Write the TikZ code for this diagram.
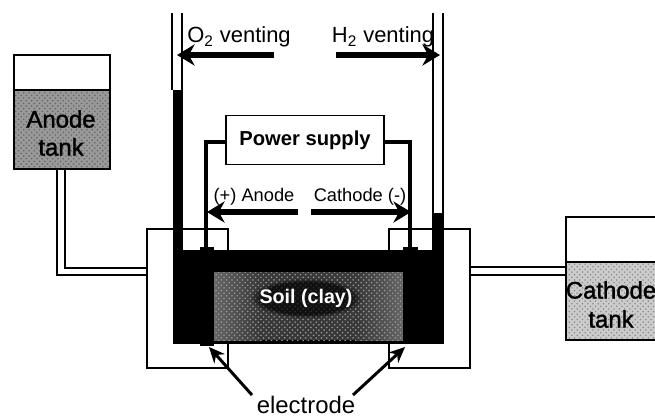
\documentclass[tikz,border=0pt]{standalone}
\usepackage{fontspec}
\setmainfont{Liberation Sans}
\newfontfamily\tanklabel[FakeBold=1.5]{Liberation Sans}
\usetikzlibrary{arrows.meta,patterns,fadings}
\tikzset{
  wall/.style={line width=1.1pt,black},
  wire/.style={line width=2pt,black},
  flow/.style={line width=3pt,black,-{Stealth[length=10pt,width=12pt]}},
  pointer/.style={line width=1.7pt,black,-{Stealth[length=9pt,width=8pt]}},
  bigtext/.style={font=\fontsize{13.6}{15}\selectfont,inner sep=0pt},
  tanktext/.style={font=\tanklabel\fontsize{13.6}{15}\selectfont,inner sep=0pt},
  smalltext/.style={font=\fontsize{10.4}{12}\selectfont,inner sep=0pt}
}
\begin{document}
\begin{tikzpicture}[x=0.02cm,y=-0.02cm]
\useasboundingbox (0,0) rectangle (655,417);

% tanks
\fill[black!40] (14,90) rectangle (110,169);
\fill[pattern=crosshatch dots,pattern color=black!60] (14,90) rectangle (110,169);
\draw[wall] (14,55) rectangle (110,169);
\draw[wall] (14,90) -- (110,90);
\fill[black!20] (566,262) rectangle (655,340);
\fill[pattern=crosshatch dots,pattern color=black!45] (566,262) rectangle (655,340);
\draw[wall] (655,217) -- (566,217) -- (566,340) -- (655,340);
\draw[wall] (566,262) -- (655,262);

% cell boxes and pipes
\draw[wall] (147,229) rectangle (228,368);
\draw[wall] (389,229) rectangle (470,368);
\draw[wall] (57,169) -- (57,275) -- (147,275);
\draw[wall] (65,169) -- (65,268) -- (147,268);
\draw[wall] (470,267) -- (566,267);
\draw[wall] (470,275) -- (566,275);

% soil
\fill[black] (173,250) rectangle (444,344);
\shade[left color=black!60,right color=black!78] (214,272) rectangle (260,340);
\fill[black!78] (260,272) rectangle (357,340);
\shade[left color=black!78,right color=black!60] (357,272) rectangle (403,340);
\fill[pattern=crosshatch dots,pattern color=black!40] (214,272) rectangle (403,340);
\fill[black] (200,247) rectangle (214,346);
\fill[black] (403,247) rectangle (418,344);
\fill[black,opacity=0.7,path fading=circle with fuzzy edge 20 percent] (250,278) rectangle (362,318);

% vent tubes
\draw[wall] (172,13) -- (172,90);
\draw[wall] (182,13) -- (182,90);
\fill[black] (173,90) rectangle (183,250);
\draw[wall] (433,13) -- (433,250);
\draw[wall] (443,13) -- (443,250);
\fill[black] (434,213) rectangle (444,250);

% labels
\node[tanktext] (anode) at (61,119) {Anode};
\node[tanktext] (anodetank) at (61,147) {tank};
\node[tanktext] (cathode) at (611,290) {Cathode};
\node[tanktext] (cathodetank) at (611,319) {tank};
\node[draw,wall,fill=white,minimum width=3.16cm,minimum height=0.98cm,
  font=\bfseries\fontsize{11.5}{13}\selectfont] (supply) at (305,140) {Power supply};
\node[font=\bfseries\fontsize{11.2}{13}\selectfont,text=white,inner sep=1.5pt] (soil) at (306,298) {Soil (clay)};
\node[bigtext,font=\fontsize{12.5}{14}\selectfont] (oxygen) at (239,37) {O\textsubscript{2} venting};
\node[bigtext,font=\fontsize{12.5}{14}\selectfont] (hydrogen) at (383,37) {H\textsubscript{2} venting};
\node[smalltext] (plus) at (254,197) {(+) Anode};
\node[smalltext] (minus) at (360,197) {Cathode (-)};
\node[bigtext] (electrode) at (306,405) {electrode};

% wires
\coordinate (lefttop) at (206,247);
\coordinate (righttop) at (410,247);
\draw[wire] (supply.west |- 0,142) -- (206,142) -- (lefttop);
\draw[wire] (supply.east |- 0,142) -- (410,142) -- (righttop);

% arrows
\coordinate (ventL) at (177,55);
\coordinate (ventR) at (440,55);
\coordinate (wireL) at (207,212);
\coordinate (wireR) at (411,212);
\coordinate (electrodeL) at (209,347);
\coordinate (electrodeR) at (405,347);
\draw[flow] (274,55) -- (ventL);
\draw[flow] (336,55) -- (ventR);
\draw[flow] (298,212) -- (wireL);
\draw[flow] (311,212) -- (wireR);
\draw[pointer] (252,395) -- (electrodeL);
\draw[pointer] (353,395) -- (electrodeR);
\end{tikzpicture}
\end{document}
